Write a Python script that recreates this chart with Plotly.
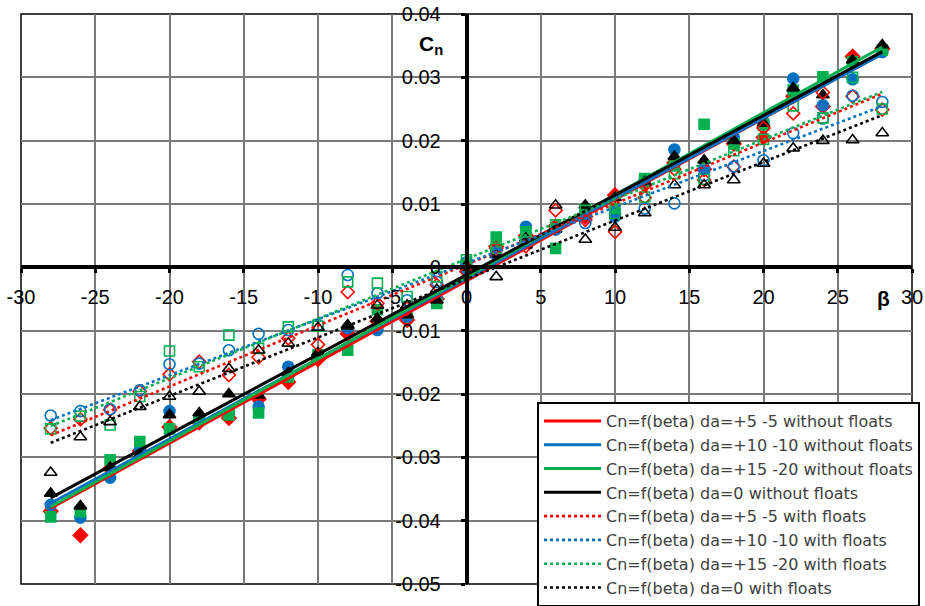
import numpy as np
import plotly.graph_objects as go

beta = [-28, -26, -24, -22, -20, -18, -16, -14, -12, -10, -8, -6, -4, -2, 0,
        2, 4, 6, 8, 10, 12, 14, 16, 18, 20, 22, 24, 26, 28]

red_wo = [-0.0385, -0.0423, -0.0318, -0.0290, -0.0252, -0.0245, -0.0238, -0.0208, -0.0181, -0.0145,
          -0.0105, -0.0085, -0.0083, -0.0050, 0.0000, 0.0033, 0.0050, 0.0065, 0.0080, 0.0114,
          0.0130, 0.0165, 0.0155, 0.0195, 0.0205, 0.0270, 0.0254, 0.0333, 0.0345]
blue_wo = [-0.0375, -0.0395, -0.0332, -0.0288, -0.0227, -0.0240, -0.0230, -0.0220, -0.0157, -0.0140,
           -0.0096, -0.0099, -0.0078, -0.0050, -0.0005, 0.0025, 0.0064, 0.0060, 0.0085, 0.0080,
           0.0138, 0.0186, 0.0156, 0.0205, 0.0230, 0.0298, 0.0256, 0.0297, 0.0340]
green_wo = [-0.0394, -0.0386, -0.0304, -0.0275, -0.0255, -0.0240, -0.0233, -0.0230, -0.0173, -0.0138,
            -0.0131, -0.0067, -0.0072, -0.0057, 0.0005, 0.0048, 0.0056, 0.0030, 0.0092, 0.0093,
            0.0140, 0.0160, 0.0226, 0.0195, 0.0225, 0.0280, 0.0301, 0.0325, 0.0343]
black_wo = [-0.0357, -0.0377, -0.0316, -0.0296, -0.0233, -0.0230, -0.0200, -0.0202, -0.0167, -0.0135,
            -0.0091, -0.0081, -0.0075, -0.0052, 0.0000, 0.0020, 0.0046, 0.0060, 0.0098, 0.0110,
            0.0135, 0.0175, 0.0169, 0.0200, 0.0227, 0.0283, 0.0272, 0.0327, 0.0351]
red_w = [-0.0254, -0.0240, -0.0225, -0.0196, -0.0169, -0.0149, -0.0170, -0.0142, -0.0112, -0.0122,
         -0.0039, -0.0057, -0.0065, -0.0028, -0.0007, 0.0030, 0.0033, 0.0090, 0.0075, 0.0056,
         0.0110, 0.0155, 0.0138, 0.0159, 0.0220, 0.0243, 0.0276, 0.0270, 0.0249]
blue_w = [-0.0234, -0.0227, -0.0224, -0.0194, -0.0153, -0.0152, -0.0131, -0.0105, -0.0099, -0.0091,
          -0.0012, -0.0041, -0.0052, -0.0023, 0.0008, 0.0020, 0.0040, 0.0060, 0.0070, 0.0085,
          0.0093, 0.0101, 0.0145, 0.0159, 0.0169, 0.0212, 0.0235, 0.0271, 0.0261]
green_w = [-0.0255, -0.0235, -0.0249, -0.0204, -0.0132, -0.0157, -0.0107, -0.0128, -0.0094, -0.0093,
           -0.0023, -0.0025, -0.0046, -0.0015, 0.0012, 0.0030, 0.0040, 0.0067, 0.0090, 0.0085,
           0.0111, 0.0148, 0.0139, 0.0184, 0.0202, 0.0255, 0.0236, 0.0300, 0.0250]
black_w = [-0.0324, -0.0268, -0.0244, -0.0220, -0.0204, -0.0196, -0.0160, -0.0131, -0.0120, -0.0095,
           -0.0093, -0.0060, -0.0060, -0.0035, 0.0003, -0.0015, 0.0035, 0.0098, 0.0044, 0.0063,
           0.0086, 0.0130, 0.0130, 0.0138, 0.0164, 0.0188, 0.0200, 0.0201, 0.0212]

series_names = [
    "Cn=f(beta) da=+5 -5 without floats",
    "Cn=f(beta) da=+10 -10 without floats",
    "Cn=f(beta) da=+15 -20 without floats",
    "Cn=f(beta) da=0 without floats",
    "Cn=f(beta) da=+5 -5 with floats",
    "Cn=f(beta) da=+10 -10 with floats",
    "Cn=f(beta) da=+15 -20 with floats",
    "Cn=f(beta) da=0 with floats",
]
series_values = [red_wo, blue_wo, green_wo, black_wo, red_w, blue_w, green_w, black_w]

x_ticks = [-30, -25, -20, -15, -10, -5, 0, 5, 10, 15, 20, 25, 30]
x_ticktext = ["-30", "-25", "-20", "-15", "-10", "-5", "0", "5", "10", "15", "20", "25", "30"]
y_ticks = [0.04, 0.03, 0.02, 0.01, 0.0, -0.01, -0.02, -0.03, -0.04, -0.05]
y_ticktext = ["0.04", "0.03", "0.02", "0.01", "0", "-0.01", "-0.02", "-0.03", "-0.04", "-0.05"]

RED, BLUE, GREEN, BLACK = "#FF0000", "#0070C0", "#00B050", "#000000"
colors = [RED, BLUE, GREEN, BLACK, RED, BLUE, GREEN, BLACK]
symbols = ["diamond", "circle", "square", "triangle-up",
           "diamond-open", "circle-open", "square-open", "triangle-up-open"]
sizes = [11, 11, 10, 11, 10, 11, 10, 11]

fig = go.Figure()
bx = np.array(beta, dtype=float)

# data markers
for vals, col, sym, sz in zip(series_values, colors, symbols, sizes):
    fig.add_trace(go.Scatter(
        x=beta, y=vals, mode="markers", showlegend=False, hoverinfo="skip",
        marker=dict(symbol=sym, size=sz, color=col, line=dict(color=col, width=1.6)),
    ))

# linear trendlines (least squares fit of each series)
for i, (vals, col, name) in enumerate(zip(series_values, colors, series_names)):
    k, b = np.polyfit(bx, np.array(vals), 1)
    xs = [bx.min(), bx.max()]
    ys = [k * xs[0] + b, k * xs[1] + b]
    solid = i < 4
    fig.add_trace(go.Scatter(
        x=xs, y=ys, mode="lines", name=name, hoverinfo="skip",
        line=dict(color=col, width=3 if solid else 2.6, dash="solid" if solid else "dot"),
    ))

grid_col = "#7a7a7a"
fig.update_layout(
    width=925, height=606,
    margin=dict(l=21, r=13, t=14, b=22, autoexpand=False),
    paper_bgcolor="white", plot_bgcolor="white",
    font=dict(family="Liberation Sans, Arial, sans-serif", color="black"),
    xaxis=dict(
        range=[-30, 30], tickvals=x_ticks, ticktext=x_ticktext, automargin=False,
        ticklabeloverflow="allow",
        showgrid=True, gridcolor=grid_col, gridwidth=1.5, zeroline=False,
        anchor="free", position=0.05 / 0.09,
        showline=True, linecolor="black", linewidth=3.5,
        ticks="outside", ticklen=4, tickwidth=3, tickcolor="black",
        tickfont=dict(size=20, color="black"), ticklabelstandoff=7,
    ),
    yaxis=dict(
        range=[-0.05, 0.04], tickvals=y_ticks, ticktext=y_ticktext, automargin=False,
        ticklabeloverflow="allow",
        showgrid=True, gridcolor=grid_col, gridwidth=1.5, zeroline=False,
        anchor="free", position=0.5,
        showline=True, linecolor="black", linewidth=3.5,
        ticks="outside", ticklen=4, tickwidth=3, tickcolor="black",
        tickfont=dict(size=20, color="black"), ticklabelstandoff=16,
    ),
    legend=dict(
        x=(537 - 21) / 891, y=(584 - 402) / 570, xanchor="left", yanchor="top",
        bgcolor="white", bordercolor="black", borderwidth=2,
        font=dict(size=16, color="#404040", family="DejaVu Sans, Liberation Sans, sans-serif"),
        tracegroupgap=0, itemwidth=57,
    ),
    shapes=[dict(type="rect", xref="x domain", yref="y domain", x0=0, x1=1, y0=0, y1=1,
                 line=dict(color="black", width=1.5), layer="below")],
    annotations=[
        dict(x=-2.4, y=0.0351, xref="x", yref="y", text="<b>C<sub>n</sub></b>",
             showarrow=False, font=dict(size=21, color="black")),
        dict(x=28.1, y=-0.0049, xref="x", yref="y", text="<b>β</b>",
             showarrow=False, font=dict(size=21, color="black")),
    ],
)

fig.write_html("out.html", config={"displayModeBar": False},
               post_script="document.body.style.margin='0';")
